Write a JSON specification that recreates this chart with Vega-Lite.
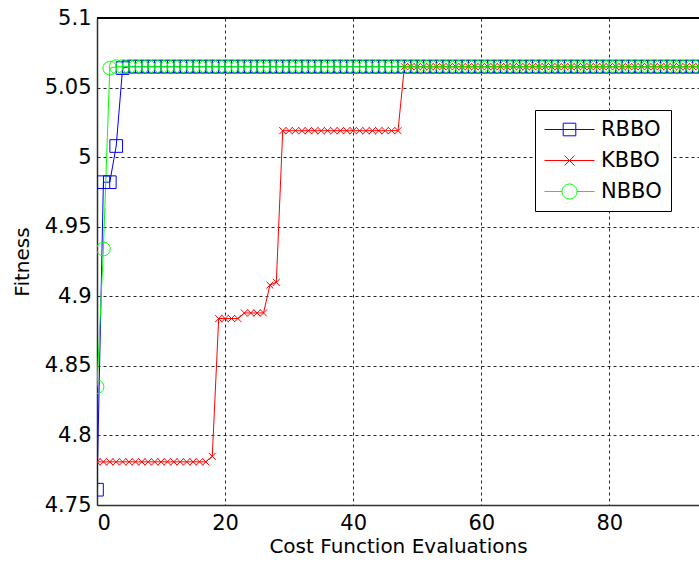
{
  "$schema": "https://vega.github.io/schema/vega-lite/v6.json",
  "width": 602,
  "height": 487,
  "autosize": {"type": "none"},
  "padding": {"left": 97, "top": 18, "right": 0, "bottom": 58},
  "background": "white",
  "config": {
    "view": {"stroke": null},
    "font": "DejaVu Sans",
    "axis": {
      "labelFont": "DejaVu Sans", "titleFont": "DejaVu Sans",
      "labelFontSize": 21, "titleFontSize": 20, "titleFontWeight": "normal",
      "labelColor": "black", "titleColor": "black",
      "domainColor": "#303030", "domainWidth": 1.5,
      "ticks": false,
      "grid": true, "gridColor": "black", "gridDash": [3, 3], "gridOpacity": 0.85, "gridWidth": 1
    },
    "legend": {"labelFont": "DejaVu Sans"}
  },
  "data": {"values": [
    {"s":"RBBO","x":0,"y":4.761},{"s":"RBBO","x":1,"y":4.982},{"s":"RBBO","x":2,"y":4.982},{"s":"RBBO","x":3,"y":5.008},{"s":"RBBO","x":4,"y":5.064},
    {"s":"RBBO","x":5,"y":5.065},{"s":"RBBO","x":6,"y":5.065},{"s":"RBBO","x":7,"y":5.065},{"s":"RBBO","x":8,"y":5.065},{"s":"RBBO","x":9,"y":5.065},
    {"s":"RBBO","x":10,"y":5.065},{"s":"RBBO","x":11,"y":5.065},{"s":"RBBO","x":12,"y":5.065},{"s":"RBBO","x":13,"y":5.065},{"s":"RBBO","x":14,"y":5.065},
    {"s":"RBBO","x":15,"y":5.065},{"s":"RBBO","x":16,"y":5.065},{"s":"RBBO","x":17,"y":5.065},{"s":"RBBO","x":18,"y":5.065},{"s":"RBBO","x":19,"y":5.065},
    {"s":"RBBO","x":20,"y":5.065},{"s":"RBBO","x":21,"y":5.065},{"s":"RBBO","x":22,"y":5.065},{"s":"RBBO","x":23,"y":5.065},{"s":"RBBO","x":24,"y":5.065},
    {"s":"RBBO","x":25,"y":5.065},{"s":"RBBO","x":26,"y":5.065},{"s":"RBBO","x":27,"y":5.065},{"s":"RBBO","x":28,"y":5.065},{"s":"RBBO","x":29,"y":5.065},
    {"s":"RBBO","x":30,"y":5.065},{"s":"RBBO","x":31,"y":5.065},{"s":"RBBO","x":32,"y":5.065},{"s":"RBBO","x":33,"y":5.065},{"s":"RBBO","x":34,"y":5.065},
    {"s":"RBBO","x":35,"y":5.065},{"s":"RBBO","x":36,"y":5.065},{"s":"RBBO","x":37,"y":5.065},{"s":"RBBO","x":38,"y":5.065},{"s":"RBBO","x":39,"y":5.065},
    {"s":"RBBO","x":40,"y":5.065},{"s":"RBBO","x":41,"y":5.065},{"s":"RBBO","x":42,"y":5.065},{"s":"RBBO","x":43,"y":5.065},{"s":"RBBO","x":44,"y":5.065},
    {"s":"RBBO","x":45,"y":5.065},{"s":"RBBO","x":46,"y":5.065},{"s":"RBBO","x":47,"y":5.065},{"s":"RBBO","x":48,"y":5.065},{"s":"RBBO","x":49,"y":5.065},
    {"s":"RBBO","x":50,"y":5.065},{"s":"RBBO","x":51,"y":5.065},{"s":"RBBO","x":52,"y":5.065},{"s":"RBBO","x":53,"y":5.065},{"s":"RBBO","x":54,"y":5.065},
    {"s":"RBBO","x":55,"y":5.065},{"s":"RBBO","x":56,"y":5.065},{"s":"RBBO","x":57,"y":5.065},{"s":"RBBO","x":58,"y":5.065},{"s":"RBBO","x":59,"y":5.065},
    {"s":"RBBO","x":60,"y":5.065},{"s":"RBBO","x":61,"y":5.065},{"s":"RBBO","x":62,"y":5.065},{"s":"RBBO","x":63,"y":5.065},{"s":"RBBO","x":64,"y":5.065},
    {"s":"RBBO","x":65,"y":5.065},{"s":"RBBO","x":66,"y":5.065},{"s":"RBBO","x":67,"y":5.065},{"s":"RBBO","x":68,"y":5.065},{"s":"RBBO","x":69,"y":5.065},
    {"s":"RBBO","x":70,"y":5.065},{"s":"RBBO","x":71,"y":5.065},{"s":"RBBO","x":72,"y":5.065},{"s":"RBBO","x":73,"y":5.065},{"s":"RBBO","x":74,"y":5.065},
    {"s":"RBBO","x":75,"y":5.065},{"s":"RBBO","x":76,"y":5.065},{"s":"RBBO","x":77,"y":5.065},{"s":"RBBO","x":78,"y":5.065},{"s":"RBBO","x":79,"y":5.065},
    {"s":"RBBO","x":80,"y":5.065},{"s":"RBBO","x":81,"y":5.065},{"s":"RBBO","x":82,"y":5.065},{"s":"RBBO","x":83,"y":5.065},{"s":"RBBO","x":84,"y":5.065},
    {"s":"RBBO","x":85,"y":5.065},{"s":"RBBO","x":86,"y":5.065},{"s":"RBBO","x":87,"y":5.065},{"s":"RBBO","x":88,"y":5.065},{"s":"RBBO","x":89,"y":5.065},
    {"s":"RBBO","x":90,"y":5.065},{"s":"RBBO","x":91,"y":5.065},{"s":"RBBO","x":92,"y":5.065},{"s":"RBBO","x":93,"y":5.065},{"s":"RBBO","x":94,"y":5.065},
    {"s":"RBBO","x":95,"y":5.065},

    {"s":"KBBO","x":0,"y":4.781},{"s":"KBBO","x":1,"y":4.781},{"s":"KBBO","x":2,"y":4.781},{"s":"KBBO","x":3,"y":4.781},{"s":"KBBO","x":4,"y":4.781},
    {"s":"KBBO","x":5,"y":4.781},{"s":"KBBO","x":6,"y":4.781},{"s":"KBBO","x":7,"y":4.781},{"s":"KBBO","x":8,"y":4.781},{"s":"KBBO","x":9,"y":4.781},
    {"s":"KBBO","x":10,"y":4.781},{"s":"KBBO","x":11,"y":4.781},{"s":"KBBO","x":12,"y":4.781},{"s":"KBBO","x":13,"y":4.781},{"s":"KBBO","x":14,"y":4.781},
    {"s":"KBBO","x":15,"y":4.781},{"s":"KBBO","x":16,"y":4.781},{"s":"KBBO","x":17,"y":4.781},{"s":"KBBO","x":18,"y":4.785},{"s":"KBBO","x":19,"y":4.884},
    {"s":"KBBO","x":20,"y":4.884},{"s":"KBBO","x":21,"y":4.884},{"s":"KBBO","x":22,"y":4.884},{"s":"KBBO","x":23,"y":4.888},{"s":"KBBO","x":24,"y":4.888},
    {"s":"KBBO","x":25,"y":4.888},{"s":"KBBO","x":26,"y":4.888},{"s":"KBBO","x":27,"y":4.908},{"s":"KBBO","x":28,"y":4.91},{"s":"KBBO","x":29,"y":5.019},
    {"s":"KBBO","x":30,"y":5.019},{"s":"KBBO","x":31,"y":5.019},{"s":"KBBO","x":32,"y":5.019},{"s":"KBBO","x":33,"y":5.019},{"s":"KBBO","x":34,"y":5.019},
    {"s":"KBBO","x":35,"y":5.019},{"s":"KBBO","x":36,"y":5.019},{"s":"KBBO","x":37,"y":5.019},{"s":"KBBO","x":38,"y":5.019},{"s":"KBBO","x":39,"y":5.019},
    {"s":"KBBO","x":40,"y":5.019},{"s":"KBBO","x":41,"y":5.019},{"s":"KBBO","x":42,"y":5.019},{"s":"KBBO","x":43,"y":5.019},{"s":"KBBO","x":44,"y":5.019},
    {"s":"KBBO","x":45,"y":5.019},{"s":"KBBO","x":46,"y":5.019},{"s":"KBBO","x":47,"y":5.019},{"s":"KBBO","x":48,"y":5.065},{"s":"KBBO","x":49,"y":5.065},
    {"s":"KBBO","x":50,"y":5.065},{"s":"KBBO","x":51,"y":5.065},{"s":"KBBO","x":52,"y":5.065},{"s":"KBBO","x":53,"y":5.065},{"s":"KBBO","x":54,"y":5.065},
    {"s":"KBBO","x":55,"y":5.065},{"s":"KBBO","x":56,"y":5.065},{"s":"KBBO","x":57,"y":5.065},{"s":"KBBO","x":58,"y":5.065},{"s":"KBBO","x":59,"y":5.065},
    {"s":"KBBO","x":60,"y":5.065},{"s":"KBBO","x":61,"y":5.065},{"s":"KBBO","x":62,"y":5.065},{"s":"KBBO","x":63,"y":5.065},{"s":"KBBO","x":64,"y":5.065},
    {"s":"KBBO","x":65,"y":5.065},{"s":"KBBO","x":66,"y":5.065},{"s":"KBBO","x":67,"y":5.065},{"s":"KBBO","x":68,"y":5.065},{"s":"KBBO","x":69,"y":5.065},
    {"s":"KBBO","x":70,"y":5.065},{"s":"KBBO","x":71,"y":5.065},{"s":"KBBO","x":72,"y":5.065},{"s":"KBBO","x":73,"y":5.065},{"s":"KBBO","x":74,"y":5.065},
    {"s":"KBBO","x":75,"y":5.065},{"s":"KBBO","x":76,"y":5.065},{"s":"KBBO","x":77,"y":5.065},{"s":"KBBO","x":78,"y":5.065},{"s":"KBBO","x":79,"y":5.065},
    {"s":"KBBO","x":80,"y":5.065},{"s":"KBBO","x":81,"y":5.065},{"s":"KBBO","x":82,"y":5.065},{"s":"KBBO","x":83,"y":5.065},{"s":"KBBO","x":84,"y":5.065},
    {"s":"KBBO","x":85,"y":5.065},{"s":"KBBO","x":86,"y":5.065},{"s":"KBBO","x":87,"y":5.065},{"s":"KBBO","x":88,"y":5.065},{"s":"KBBO","x":89,"y":5.065},
    {"s":"KBBO","x":90,"y":5.065},{"s":"KBBO","x":91,"y":5.065},{"s":"KBBO","x":92,"y":5.065},{"s":"KBBO","x":93,"y":5.065},{"s":"KBBO","x":94,"y":5.065},
    {"s":"KBBO","x":95,"y":5.065},

    {"s":"NBBO","x":0,"y":4.835},{"s":"NBBO","x":1,"y":4.934},{"s":"NBBO","x":2,"y":5.064},{"s":"NBBO","x":3,"y":5.065},{"s":"NBBO","x":4,"y":5.065},
    {"s":"NBBO","x":5,"y":5.065},{"s":"NBBO","x":6,"y":5.065},{"s":"NBBO","x":7,"y":5.065},{"s":"NBBO","x":8,"y":5.065},{"s":"NBBO","x":9,"y":5.065},
    {"s":"NBBO","x":10,"y":5.065},{"s":"NBBO","x":11,"y":5.065},{"s":"NBBO","x":12,"y":5.065},{"s":"NBBO","x":13,"y":5.065},{"s":"NBBO","x":14,"y":5.065},
    {"s":"NBBO","x":15,"y":5.065},{"s":"NBBO","x":16,"y":5.065},{"s":"NBBO","x":17,"y":5.065},{"s":"NBBO","x":18,"y":5.065},{"s":"NBBO","x":19,"y":5.065},
    {"s":"NBBO","x":20,"y":5.065},{"s":"NBBO","x":21,"y":5.065},{"s":"NBBO","x":22,"y":5.065},{"s":"NBBO","x":23,"y":5.065},{"s":"NBBO","x":24,"y":5.065},
    {"s":"NBBO","x":25,"y":5.065},{"s":"NBBO","x":26,"y":5.065},{"s":"NBBO","x":27,"y":5.065},{"s":"NBBO","x":28,"y":5.065},{"s":"NBBO","x":29,"y":5.065},
    {"s":"NBBO","x":30,"y":5.065},{"s":"NBBO","x":31,"y":5.065},{"s":"NBBO","x":32,"y":5.065},{"s":"NBBO","x":33,"y":5.065},{"s":"NBBO","x":34,"y":5.065},
    {"s":"NBBO","x":35,"y":5.065},{"s":"NBBO","x":36,"y":5.065},{"s":"NBBO","x":37,"y":5.065},{"s":"NBBO","x":38,"y":5.065},{"s":"NBBO","x":39,"y":5.065},
    {"s":"NBBO","x":40,"y":5.065},{"s":"NBBO","x":41,"y":5.065},{"s":"NBBO","x":42,"y":5.065},{"s":"NBBO","x":43,"y":5.065},{"s":"NBBO","x":44,"y":5.065},
    {"s":"NBBO","x":45,"y":5.065},{"s":"NBBO","x":46,"y":5.065},{"s":"NBBO","x":47,"y":5.065},{"s":"NBBO","x":48,"y":5.065},{"s":"NBBO","x":49,"y":5.065},
    {"s":"NBBO","x":50,"y":5.065},{"s":"NBBO","x":51,"y":5.065},{"s":"NBBO","x":52,"y":5.065},{"s":"NBBO","x":53,"y":5.065},{"s":"NBBO","x":54,"y":5.065},
    {"s":"NBBO","x":55,"y":5.065},{"s":"NBBO","x":56,"y":5.065},{"s":"NBBO","x":57,"y":5.065},{"s":"NBBO","x":58,"y":5.065},{"s":"NBBO","x":59,"y":5.065},
    {"s":"NBBO","x":60,"y":5.065},{"s":"NBBO","x":61,"y":5.065},{"s":"NBBO","x":62,"y":5.065},{"s":"NBBO","x":63,"y":5.065},{"s":"NBBO","x":64,"y":5.065},
    {"s":"NBBO","x":65,"y":5.065},{"s":"NBBO","x":66,"y":5.065},{"s":"NBBO","x":67,"y":5.065},{"s":"NBBO","x":68,"y":5.065},{"s":"NBBO","x":69,"y":5.065},
    {"s":"NBBO","x":70,"y":5.065},{"s":"NBBO","x":71,"y":5.065},{"s":"NBBO","x":72,"y":5.065},{"s":"NBBO","x":73,"y":5.065},{"s":"NBBO","x":74,"y":5.065},
    {"s":"NBBO","x":75,"y":5.065},{"s":"NBBO","x":76,"y":5.065},{"s":"NBBO","x":77,"y":5.065},{"s":"NBBO","x":78,"y":5.065},{"s":"NBBO","x":79,"y":5.065},
    {"s":"NBBO","x":80,"y":5.065},{"s":"NBBO","x":81,"y":5.065},{"s":"NBBO","x":82,"y":5.065},{"s":"NBBO","x":83,"y":5.065},{"s":"NBBO","x":84,"y":5.065},
    {"s":"NBBO","x":85,"y":5.065},{"s":"NBBO","x":86,"y":5.065},{"s":"NBBO","x":87,"y":5.065},{"s":"NBBO","x":88,"y":5.065},{"s":"NBBO","x":89,"y":5.065},
    {"s":"NBBO","x":90,"y":5.065},{"s":"NBBO","x":91,"y":5.065},{"s":"NBBO","x":92,"y":5.065},{"s":"NBBO","x":93,"y":5.065},{"s":"NBBO","x":94,"y":5.065},
    {"s":"NBBO","x":95,"y":5.065}
  ]},
  "encoding": {
    "x": {"field": "x", "type": "quantitative", "scale": {"domain": [0, 94], "nice": false, "zero": false},
          "axis": {"values": [0, 20, 40, 60, 80], "title": "Cost Function Evaluations", "labelPadding": 7, "titlePadding": 3}},
    "y": {"field": "y", "type": "quantitative", "scale": {"domain": [4.75, 5.1], "nice": false, "zero": false},
          "axis": {"values": [4.75, 4.8, 4.85, 4.9, 4.95, 5, 5.05, 5.1], "format": "~g", "title": "Fitness", "labelPadding": 6, "titlePadding": 12}},
    "color": {"field": "s", "type": "nominal", "sort": ["RBBO", "KBBO", "NBBO"],
              "scale": {"domain": ["RBBO", "KBBO", "NBBO"], "range": ["#0000ff", "#ff0000", "#00ff00"]},
              "legend": {"title": null, "orient": "none", "legendX": 438, "legendY": 92,
                "strokeColor": "black", "fillColor": "white", "padding": 9, "labelFontSize": 21, "labelColor": "black",
                "symbolSize": 400, "labelOffset": 36, "rowPadding": 9, "symbolStrokeWidth": 1,
                "symbolOpacity": 1, "symbolFillColor": "transparent"}}
  },
  "layer": [
    {
      "mark": {"type": "line", "strokeWidth": 1, "clip": true}
    },
    {
      "mark": {"type": "point", "filled": false, "opacity": 0, "clip": true},
      "encoding": {
        "shape": {"field": "s", "type": "nominal",
                  "scale": {"domain": ["RBBO", "KBBO", "NBBO"], "range": [
                    "M-1,0H4M0.87,-0.63H2.13V0.63H0.87Z",
                    "M-1,0H4M1,-0.5L2,0.5M1,0.5L2,-0.5",
                    "M-1,0H0.75M2.25,0H4M2.25,0A0.75,0.75 0 1,1 0.75,0A0.75,0.75 0 1,1 2.25,0"]},
                  "legend": {"title": null, "orient": "none", "legendX": 438, "legendY": 92,
                    "strokeColor": "black", "fillColor": "white", "padding": 9, "labelFontSize": 21, "labelColor": "black",
                    "symbolSize": 400, "labelOffset": 36, "rowPadding": 9, "symbolStrokeWidth": 1,
                    "symbolOpacity": 1, "symbolFillColor": "transparent"}}
      }
    },
    {
      "transform": [{"filter": "datum.s === 'RBBO'"}],
      "mark": {"type": "point", "shape": "square", "filled": false, "strokeWidth": 1, "size": 160, "clip": true, "opacity": 1}
    },
    {
      "transform": [{"filter": "datum.s === 'KBBO'"}],
      "mark": {"type": "point", "shape": "M-0.55,-0.55L0.55,0.55M-0.55,0.55L0.55,-0.55", "filled": false, "strokeWidth": 1, "size": 160, "clip": true, "opacity": 1}
    },
    {
      "transform": [{"filter": "datum.s === 'NBBO'"}],
      "mark": {"type": "point", "shape": "M1.08,0A1.08,1.08 0 1,1 -1.08,0A1.08,1.08 0 1,1 1.08,0", "filled": false, "strokeWidth": 1, "size": 160, "clip": true, "opacity": 1}
    },
    {
      "mark": {"type": "rule", "color": "black", "strokeWidth": 1.2},
      "encoding": {"x": null, "color": null, "y": {"datum": 5.1}}
    }
  ]
}
